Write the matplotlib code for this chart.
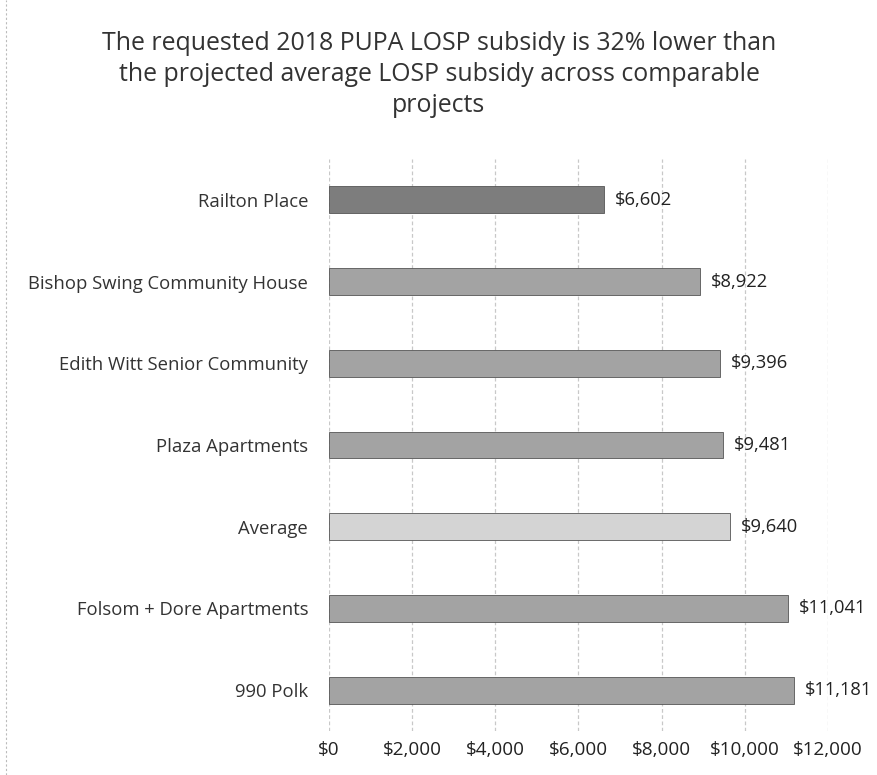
import matplotlib.pyplot as plt
from matplotlib.lines import Line2D
import numpy as np

# data, top to bottom
projects = ['Railton Place', 'Bishop Swing Community House', 'Edith Witt Senior Community',
            'Plaza Apartments', 'Average', 'Folsom + Dore Apartments', '990 Polk']
subsidy = [6602, 8922, 9396, 9481, 9640, 11041, 11181]
bar_colors = ['#7d7d7d', '#a3a3a3', '#a3a3a3', '#a3a3a3', '#d4d4d4', '#a3a3a3', '#a3a3a3']
x_ticks = [0, 2000, 4000, 6000, 8000, 10000, 12000]

plt.rcParams['font.family'] = ['Open Sans', 'DejaVu Sans']

fig = plt.figure(figsize=(8.78, 7.75), dpi=100)
ax = fig.add_axes([0.3747, 0.0568, 0.5683, 0.738])

y = np.arange(len(projects))
ax.barh(y, subsidy, height=0.33, color=bar_colors, edgecolor='#555555', linewidth=0.6, zorder=3)

for yi, v in zip(y, subsidy):
    ax.annotate(f'${v:,}', (v, yi), xytext=(8, 0), textcoords='offset points',
                va='center', ha='left', fontsize=13.2, color='#222222')

ax.set_ylim(len(projects) - 0.5, -0.5)
ax.set_xlim(0, 12000)
ax.set_xticks(x_ticks)
ax.set_xticklabels([f'${t:,}' for t in x_ticks], fontsize=13.6, color='#222222')
ax.set_yticks(y)
ax.set_yticklabels(projects, fontsize=13.3, color='#333333')
ax.tick_params(length=0, pad=15, axis='y')
ax.tick_params(length=0, pad=7, axis='x')
ax.grid(axis='x', color='#c8c8c8', linewidth=0.9, linestyle=(0, (3, 2)), zorder=0)
for s in ax.spines.values():
    s.set_visible(False)

fig.text(0.5, 0.904,
         'The requested 2018 PUPA LOSP subsidy is 32% lower than\n'
         'the projected average LOSP subsidy across comparable\nprojects',
         ha='center', va='center', fontsize=17.9, color='#333333', linespacing=1.3)

# faint left border of the original chart frame
fig.add_artist(Line2D([0.007, 0.007], [0, 1], transform=fig.transFigure,
                      color='#bbbbbb', linewidth=0.8, linestyle=(0, (2, 2))))

fig.savefig('out.png', dpi=100)
